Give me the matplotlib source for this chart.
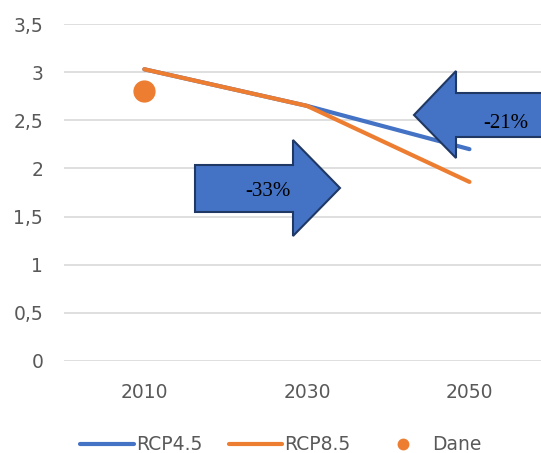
import matplotlib.pyplot as plt
from matplotlib.patches import Polygon

years = ['2010', '2030', '2050']
rcp45 = [3.03, 2.65, 2.20]
rcp85 = [3.03, 2.65, 1.86]
dane = [2.80]
y_ticks = [0, 0.5, 1, 1.5, 2, 2.5, 3, 3.5]
y_labels = ['0', '0,5', '1', '1,5', '2', '2,5', '3', '3,5']

W, H = 541, 453
fig = plt.figure(figsize=(W / 100, H / 100), dpi=100)
ax = fig.add_axes([64 / W, (H - 361) / H, 1 - 64 / W, 337 / H])

x = list(range(len(years)))
ax.plot(x, rcp45, color='#4472C4', lw=3, solid_capstyle='round', label='RCP4.5', zorder=3)
ax.plot(x, rcp85, color='#ED7D31', lw=3, solid_capstyle='round', label='RCP8.5', zorder=3)
ax.plot(x[:1], dane, 'o', color='#ED7D31', ms=15, label='Dane', zorder=3)

ax.set_xlim(-0.494, 2.44)
ax.set_ylim(0, 3.5)
ax.set_xticks(x)
ax.set_xticklabels(years)
ax.set_yticks(y_ticks)
ax.set_yticklabels(y_labels)
ax.tick_params(length=0, labelsize=13.5, labelcolor='#595959')
ax.tick_params(axis='y', pad=15)
ax.tick_params(axis='x', pad=16)
ax.grid(axis='y', color='#D9D9D9', lw=1.2)
ax.set_axisbelow(True)
for s in ax.spines.values():
    s.set_visible(False)


# arrows, drawn in pixel coords of the reference
def px(pts):
    return [(a / W, (H - b) / H) for a, b in pts]

right_arrow = [(195, 165), (293, 165), (293, 140), (340, 188), (293, 236), (293, 212), (195, 212)]
left_arrow = [(414, 115), (456, 71), (456, 93), (560, 93), (560, 137), (456, 137), (456, 158)]
for pts in (right_arrow, left_arrow):
    fig.patches.append(Polygon(px(pts), closed=True, transform=fig.transFigure,
                               facecolor='#4472C4', edgecolor='#1F3864', lw=1.5, zorder=5))

fig.text(268 / W, (H - 192) / H, '-33%', family='Liberation Serif', fontsize=15,
         ha='center', va='center', zorder=6)
fig.text(506 / W, (H - 124) / H, '-21%', family='Liberation Serif', fontsize=15,
         ha='center', va='center', zorder=6)

fig.legend(loc='center', bbox_to_anchor=(281 / W, (H - 445) / H), ncol=3, frameon=False,
           fontsize=13.5, labelcolor='#595959', handlelength=2.85, handletextpad=0.12,
           columnspacing=1.4, markerscale=0.5)

plt.savefig('out.png', dpi=100)
